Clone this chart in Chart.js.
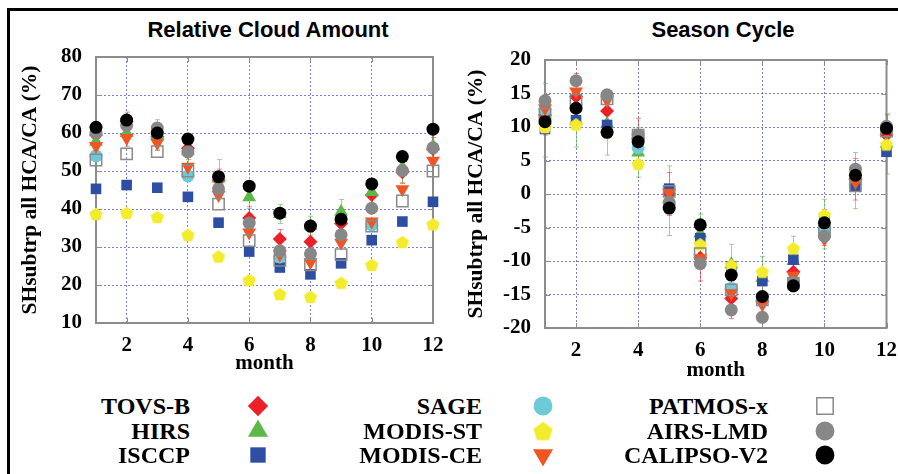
<!DOCTYPE html>
<html>
<head>
<meta charset="utf-8">
<title>SH subtropics high cloud amount</title>
<script src="https://cdn.jsdelivr.net/npm/chart.js@4.4.1/dist/chart.umd.min.js"></script>
<style>
  html, body { margin: 0; padding: 0; background: #fff; width: 898px; height: 474px; overflow: hidden; }
  #frame { position: absolute; left: 7px; top: 8px; width: 905px; height: 480px;
           border-top: 3px solid #000; border-left: 3px solid #000; box-sizing: border-box; }
  .panel { position: absolute; }
  .ttl { position: absolute; font: bold 22px "Liberation Sans", Arial, sans-serif; color: #000;
         white-space: nowrap; transform: translate(-50%, -50%); line-height: 1.15; }
  .lgLabel { position: absolute; font: bold 24px "Liberation Serif", "Times New Roman", serif; color: #000;
             white-space: nowrap; transform: translate(-100%, -50%); line-height: 1; }
  .lgMark { position: absolute; }
</style>
</head>
<body>
<div id="frame"></div>
<div class="ttl" style="left:268px; top:30px;">Relative Cloud Amount</div>
<div class="ttl" style="left:723px; top:30px;">Season Cycle</div>
<canvas id="amount" class="panel" style="left:0; top:0;" width="449" height="380"></canvas>
<canvas id="cycle" class="panel" style="left:449px; top:0;" width="449" height="386"></canvas>
<div id="legend"></div>

<script>
// ---- data ---------------------------------------------------------------
const months = [1, 2, 3, 4, 5, 6, 7, 8, 9, 10, 11, 12];
const monthTicks = [2, 4, 6, 8, 10, 12];
const amountTicks = [10, 20, 30, 40, 50, 60, 70, 80];
const cycleTicks = [-20, -15, -10, -5, 0, 5, 10, 15, 20];

const seriesNames = ['TOVS-B', 'HIRS', 'ISCCP', 'SAGE', 'MODIS-ST', 'MODIS-CE',
                     'PATMOS-x', 'AIRS-LMD', 'CALIPSO-V2'];

// relative high cloud amount HCA/CA (%), monthly
const tovsAmount    = [59.5, 63.0, 59.0, 56.0, 47.5, 37.6, 32.1, 31.4, 36.2, 43.7, 49.7, 55.8];
const hirsAmount    = [57.7, 60.0, 59.5, 55.2, 48.0, 43.1, 38.7, 35.6, 39.3, 44.5, 51.0, 56.5];
const isccpAmount   = [45.3, 46.3, 45.6, 43.2, 36.4, 28.8, 24.6, 22.8, 25.7, 31.8, 36.7, 41.9];
const sageAmount    = [54.0, null, null, 48.7, null, null, 27.4, null, null, 35.8, null, null];
const modisStAmount = [38.7, 39.0, 37.9, 33.2, 27.5, 21.3, 17.6, 16.9, 20.6, 25.3, 31.3, 36.0];
const modisCeAmount = [56.6, 58.7, 57.4, 51.1, 43.7, 33.8, 28.0, 26.0, 31.1, 36.7, 45.2, 52.7];
const patmosAmount  = [52.9, 54.5, 55.1, 50.0, 41.3, 31.7, 26.5, 25.3, 28.0, 35.5, 42.1, 50.0];
const airsAmount    = [60.0, 62.0, 61.3, 55.0, 45.3, 36.3, 29.0, 28.2, 33.2, 40.2, 50.1, 56.1];
const calipsoAmount = [61.5, 63.4, 60.0, 58.4, 48.5, 46.0, 38.9, 35.5, 37.3, 46.6, 53.8, 61.0];

// seasonal cycle: departure from annual mean (%)
const tovsCycle    = [11.8, 14.5, 12.4, 8.2, 0.0, -9.5, -15.6, -16.0, -11.6, -5.0, 2.2, 8.8];
const hirsCycle    = [11.0, 11.0, 10.5, 6.2, -1.0, -5.9, -10.5, -12.5, -10.0, -4.5, 2.0, 7.5];
const isccpCycle   = [9.7, 11.0, 10.3, 7.4, 0.8, -6.6, -10.8, -13.0, -9.8, -4.0, 1.1, 6.3];
const sageCycle    = [12.6, null, null, 6.9, null, null, -14.1, null, null, -5.4, null, null];
const modisStCycle = [10.0, 10.4, 9.2, 4.5, -1.3, -7.5, -10.6, -11.6, -8.1, -3.1, 2.5, 7.4];
const modisCeCycle = [12.8, 15.3, 14.0, 7.8, 0.2, -9.6, -14.8, -16.5, -12.2, -6.7, 1.8, 9.3];
const patmosCycle  = [11.9, 14.0, 14.2, 8.8, 0.4, -8.9, -14.3, -15.8, -13.3, -5.6, 1.2, 9.4];
const airsCycle    = [13.9, 16.9, 14.8, 8.8, -1.3, -10.4, -17.3, -18.4, -13.2, -6.3, 3.7, 10.1];
const calipsoCycle = [10.8, 12.8, 9.2, 7.8, -2.1, -4.6, -12.1, -15.3, -13.7, -4.3, 2.8, 9.8];

// inter-annual spread (± %) for the two longest records
const tovsAmountErr = [2.5, 2.5, 3.5, 3.0, 3.0, 3.0, 2.5, 2.5, 3.0, 3.0, 3.0, 3.0];
const hirsAmountErr = [3.0, 3.5, 4.0, 3.5, 5.0, 3.0, 2.5, 2.5, 3.2, 3.5, 4.0, 4.0];
const tovsCycleErr  = [3.0, 3.5, 3.0, 3.1, 3.2, 3.5, 3.0, 3.0, 3.0, 2.7, 3.1, 3.0];
const hirsCycleErr  = [5.5, 4.0, 4.7, 3.7, 5.2, 2.9, 3.0, 3.2, 3.7, 3.7, 4.2, 4.5];

const amountSeries = [tovsAmount, hirsAmount, isccpAmount, sageAmount, modisStAmount,
                      modisCeAmount, patmosAmount, airsAmount, calipsoAmount];
const cycleSeries  = [tovsCycle, hirsCycle, isccpCycle, sageCycle, modisStCycle,
                      modisCeCycle, patmosCycle, airsCycle, calipsoCycle];
const amountErrors = [tovsAmountErr, hirsAmountErr, null, null, null, null, null, null, null];
const cycleErrors  = [tovsCycleErr, hirsCycleErr, null, null, null, null, null, null, null];

// ---- marker styles ------------------------------------------------------
function pentagon(r, fill) {
  const s = Math.ceil(2 * r + 2);
  const c = document.createElement('canvas');
  c.width = s; c.height = s;
  const g = c.getContext('2d');
  const cx = s / 2, cy = s / 2 + r * 0.1;
  g.beginPath();
  for (let k = 0; k < 5; k++) {
    const a = -Math.PI / 2 + k * 2 * Math.PI / 5;
    g.lineTo(cx + r * Math.cos(a), cy + r * Math.sin(a));
  }
  g.closePath();
  g.fillStyle = fill;
  g.fill();
  return c;
}

const markerStyles = [
  { shape: 'rectRot',  radius: 7,   rotation: 0,   fill: '#ec2127', stroke: '#ec2127', bw: 0, err: 'rgba(236,33,39,0.55)' },
  { shape: 'triangle', radius: 8,   rotation: 0,   fill: '#5bb947', stroke: '#5bb947', bw: 0, err: 'rgba(91,185,71,0.6)' },
  { shape: 'rect',     radius: 7.5, rotation: 0,   fill: '#2e4ea3', stroke: '#2e4ea3', bw: 0 },
  { shape: 'circle',   radius: 6.5, rotation: 0,   fill: '#6ccad9', stroke: '#6ccad9', bw: 0 },
  { shape: 'pentagon', radius: 7,   rotation: 0,   fill: '#f3ec2c', stroke: '#f3ec2c', bw: 0 },
  { shape: 'triangle', radius: 8,   rotation: 180, fill: '#f25524', stroke: '#f25524', bw: 0 },
  { shape: 'rect',     radius: 8,   rotation: 0,   fill: 'rgba(255,255,255,0)', stroke: '#8a8a8a', bw: 1.5 },
  { shape: 'circle',   radius: 6.5, rotation: 0,   fill: '#878787', stroke: '#878787', bw: 0 },
  { shape: 'circle',   radius: 6.5, rotation: 0,   fill: '#000000', stroke: '#000000', bw: 0 }
];

function pointStyleOf(st, scale) {
  return st.shape === 'pentagon' ? pentagon(st.radius * scale, st.fill) : st.shape;
}

function buildDatasets(seriesList, errorList) {
  return seriesList.map((vals, i) => {
    const st = markerStyles[i];
    return {
      label: seriesNames[i],
      data: months.map((m, k) => ({ x: m, y: vals[k] })),
      errors: errorList[i],
      errorColor: st.err,
      pointStyle: pointStyleOf(st, 1),
      pointRadius: st.radius,
      pointHoverRadius: st.radius,
      pointRotation: st.rotation,
      backgroundColor: st.fill,
      borderColor: st.stroke,
      pointBorderWidth: st.bw,
      showLine: false,
      clip: false,
      order: seriesList.length - 1 - i
    };
  });
}

// ---- plot box with inward tick marks -------------------------------------
const plotFrame = {
  id: 'plotFrame',
  beforeDatasetsDraw(chart, args, opts) {
    const { ctx, chartArea: a, scales: { x, y } } = chart;
    ctx.save();
    ctx.strokeStyle = opts.color;
    ctx.lineWidth = 1;
    ctx.beginPath();
    x.ticks.forEach(t => {
      const px = Math.round(x.getPixelForValue(t.value)) + 0.5;
      ctx.moveTo(px, a.bottom); ctx.lineTo(px, a.bottom - opts.tick);
      ctx.moveTo(px, a.top); ctx.lineTo(px, a.top + opts.tick);
    });
    y.ticks.forEach(t => {
      const py = Math.round(y.getPixelForValue(t.value)) + 0.5;
      ctx.moveTo(a.left, py); ctx.lineTo(a.left + opts.tick, py);
      ctx.moveTo(a.right, py); ctx.lineTo(a.right - opts.tick, py);
    });
    ctx.stroke();
    ctx.lineWidth = opts.width;
    ctx.strokeRect(a.left, a.top, a.right - a.left, a.bottom - a.top);
    ctx.restore();
  }
};

// ---- vertical error bars with small caps, under the markers --------------
const errorBars = {
  id: 'errorBars',
  beforeDatasetsDraw(chart, args, opts) {
    const { ctx, scales: { x, y } } = chart;
    ctx.save();
    ctx.lineWidth = 1;
    chart.data.datasets.forEach(ds => {
      if (!ds.errors) return;
      ctx.strokeStyle = ds.errorColor;
      ctx.beginPath();
      ds.data.forEach((p, k) => {
        if (p.y == null || ds.errors[k] == null) return;
        const px = Math.round(x.getPixelForValue(p.x)) + 0.5;
        const top = y.getPixelForValue(p.y + ds.errors[k]);
        const bot = y.getPixelForValue(p.y - ds.errors[k]);
        ctx.moveTo(px, top); ctx.lineTo(px, bot);
        ctx.moveTo(px - opts.cap, top); ctx.lineTo(px + opts.cap, top);
        ctx.moveTo(px - opts.cap, bot); ctx.lineTo(px + opts.cap, bot);
      });
      ctx.stroke();
    });
    ctx.restore();
  }
};

const serif = "'Liberation Serif', 'Times New Roman', serif";
const gridColor = 'rgba(80, 80, 215, 0.75)';

function makePanel(canvasId, seriesList, errorList, yMin, yMax, yTicks, geom) {
  return new Chart(document.getElementById(canvasId), {
    type: 'scatter',
    data: { datasets: buildDatasets(seriesList, errorList) },
    plugins: [plotFrame, errorBars],
    options: {
      responsive: false,
      animation: false,
      events: [],
      layout: { padding: { left: 10, right: geom.padRight, top: geom.top, bottom: 0 } },
      plugins: {
        legend: { display: false },
        tooltip: { enabled: false },
        title: { display: false },
        plotFrame: { color: '#8c8c8c', width: 2, tick: 5 },
        errorBars: { cap: 2.5 }
      },
      scales: {
        x: {
          type: 'linear', min: 1, max: 12,
          afterBuildTicks: s => { s.ticks = monthTicks.map(v => ({ value: v })); },
          afterFit: s => { s.height = geom.xHeight; s.paddingLeft = 0; s.paddingRight = 0; },
          grid: { color: gridColor, lineWidth: 1, drawTicks: false },
          border: { display: false, dash: [2, 2] },
          ticks: { color: '#000', padding: 10, maxRotation: 0, autoSkip: false,
                   font: { family: serif, size: 21, weight: 'bold' } },
          title: { display: true, text: 'month', color: '#000',
                   padding: { top: 0, bottom: geom.titleBottom },
                   font: { family: serif, size: 21, weight: 'bold' } }
        },
        y: {
          type: 'linear', min: yMin, max: yMax,
          afterBuildTicks: s => { s.ticks = yTicks.map(v => ({ value: v })); },
          afterFit: s => { s.width = 86; s.paddingTop = 0; s.paddingBottom = 0; },
          grid: { color: gridColor, lineWidth: 1, drawTicks: false },
          border: { display: false, dash: [2, 2] },
          ticks: { color: '#000', padding: 14, autoSkip: false,
                   font: { family: serif, size: 21, weight: 'bold' } },
          title: { display: true, text: 'SHsubtrp all HCA/CA (%)', color: '#000',
                   padding: { top: geom.yTitleTop, bottom: 0 },
                   font: { family: serif, size: 21.5, weight: 'bold' } }
        }
      }
    }
  });
}

makePanel('amount', amountSeries, amountErrors, 10, 80, amountTicks,
          { padRight: 16, top: 57, xHeight: 57, titleBottom: 4, yTitleTop: 8 });
makePanel('cycle', cycleSeries, cycleErrors, -20, 20, cycleTicks,
          { padRight: 11.5, top: 60, xHeight: 58, titleBottom: 3, yTitleTop: 5 });

// ---- legend: three columns, label then marker ----------------------------
const legendCols = [{ textRight: 190, mark: 258 }, { textRight: 482, mark: 543 }, { textRight: 768, mark: 825 }];
const legendRows = [406, 431, 455];
const legendBox = document.getElementById('legend');
seriesNames.forEach((name, i) => {
  const col = legendCols[Math.floor(i / 3)];
  const rowY = legendRows[i % 3];
  const lab = document.createElement('div');
  lab.className = 'lgLabel';
  lab.textContent = name;
  lab.style.left = col.textRight + 'px';
  lab.style.top = rowY + 'px';
  legendBox.appendChild(lab);

  const st = markerStyles[i];
  const size = 32;
  const cv = document.createElement('canvas');
  cv.className = 'lgMark';
  cv.width = size; cv.height = size;
  cv.style.left = (col.mark - size / 2) + 'px';
  cv.style.top = (rowY - size / 2) + 'px';
  legendBox.appendChild(cv);
  const g = cv.getContext('2d');
  g.fillStyle = st.fill === 'rgba(255,255,255,0)' ? '#fff' : st.fill;
  g.strokeStyle = st.stroke;
  g.lineWidth = st.bw;
  Chart.helpers.drawPoint(g, {
    pointStyle: pointStyleOf(st, 1.45),
    rotation: st.rotation,
    radius: st.radius * 1.45,
    borderWidth: st.bw
  }, size / 2, size / 2);
});
</script>
</body>
</html>
